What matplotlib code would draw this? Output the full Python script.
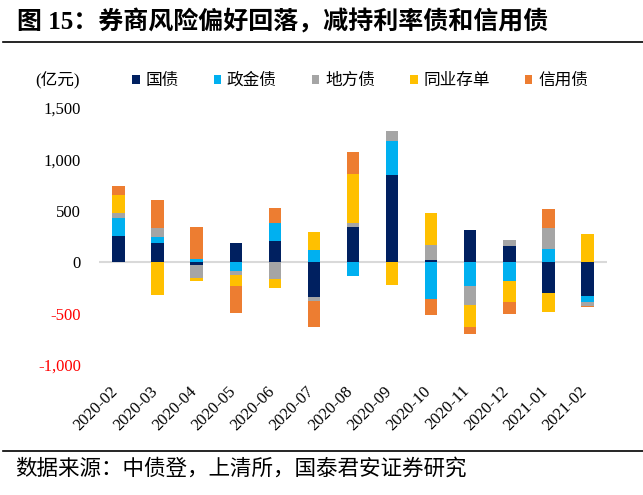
import numpy as np
import matplotlib
matplotlib.use('Agg')
import matplotlib.pyplot as plt
from matplotlib.patches import Patch
from matplotlib.lines import Line2D
from matplotlib.transforms import ScaledTranslation

plt.rcParams['font.family'] = ['Liberation Serif', 'Noto Sans CJK SC', 'DejaVu Sans']

# 数据（亿元）
months = ['2020-02', '2020-03', '2020-04', '2020-05', '2020-06', '2020-07', '2020-08',
          '2020-09', '2020-10', '2020-11', '2020-12', '2021-01', '2021-02']
guozhai = [256, 191, -26, 182, 211, -337, 347, 844, 23, 315, 162, -299, -328]
zhengjin = [178, 58, 29, -84, 175, 114, -130, 331, -360, -230, -185, 133, -62]
difang = [42, 84, -127, -39, -165, -39, 36, 97, 140, -188, 55, 204, -32]
tongye = [175, -321, -29, -104, -88, 182, 477, -221, 312, -208, -198, -182, 276]
xinyong = [88, 273, 315, -266, 140, -256, 211, 6, -153, -68, -120, 185, -13]

series_names = ['国债', '政金债', '地方债', '同业存单', '信用债']
colors = ['#002060', '#00B0F0', '#A5A5A5', '#FFC000', '#ED7D31']
series = [guozhai, zhengjin, difang, tongye, xinyong]

fig = plt.figure(figsize=(6.43, 4.95), dpi=100)
ax = fig.add_axes([99 / 643, 1 - 365 / 495, (607 - 99) / 643, (365 - 108) / 495])

x = np.arange(len(months))
pos_bottom = np.zeros(len(months))
neg_bottom = np.zeros(len(months))
for name, vals, c in zip(series_names, series, colors):
    v = np.array(vals, dtype=float)
    bottom = np.where(v >= 0, pos_bottom, neg_bottom)
    ax.bar(x, v, width=0.32, bottom=bottom, color=c, label=name, zorder=2)
    pos_bottom += np.where(v >= 0, v, 0)
    neg_bottom += np.where(v < 0, v, 0)

ax.axhline(0, color='#D9D9D9', linewidth=1.5, zorder=1)

ax.set_xlim(-0.5, 12.5)
ax.set_ylim(-1000, 1500)
ax.set_yticks([-1000, -500, 0, 500, 1000, 1500])
ax.set_yticklabels(['-1,000', '-500', '0', '500', '1,000', '1,500'])
for lab in ax.get_yticklabels():
    if lab.get_text().startswith('-'):
        lab.set_color('red')
ax.tick_params(axis='y', length=0, pad=13, labelsize=12)

ax.set_xticks(x)
ax.set_xticklabels(months, rotation=45, ha='right', va='top')
ax.tick_params(axis='x', length=0, pad=13, labelsize=12)
shift = ScaledTranslation(3 / 100, 0, fig.dpi_scale_trans)
for lab in ax.get_xticklabels():
    lab.set_transform(lab.get_transform() + shift)

for s in ax.spines.values():
    s.set_visible(False)

# 图例
handles = [Patch(facecolor=c, edgecolor='none') for c in colors]
fig.legend(handles, series_names, loc='center left', bbox_to_anchor=(132 / 643, 1 - 81 / 495),
           ncol=5, frameon=False, fontsize=12, handlelength=0.45, handleheight=0.45,
           handletextpad=0.35, columnspacing=2.1, borderaxespad=0, borderpad=0)
fig.text(35 / 643, 1 - 81 / 495, '(亿元)', fontsize=12, va='center', ha='left')

# 标题与来源
fig.text(17 / 643, 1 - 22 / 495, '图 15：券商风险偏好回落，减持利率债和信用债',
         fontsize=18, fontweight='bold', va='center', ha='left')
fig.add_artist(Line2D([3 / 643, 1], [1 - 42 / 495, 1 - 42 / 495], color='black', linewidth=1.2))
fig.add_artist(Line2D([3 / 643, 1], [1 - 451 / 495, 1 - 451 / 495], color='black', linewidth=1.2))
fig.text(15 / 643, 1 - 469 / 495, '数据来源：中债登，上清所，国泰君安证券研究',
         fontsize=15.5, va='center', ha='left')

fig.savefig('out.png', dpi=100)
